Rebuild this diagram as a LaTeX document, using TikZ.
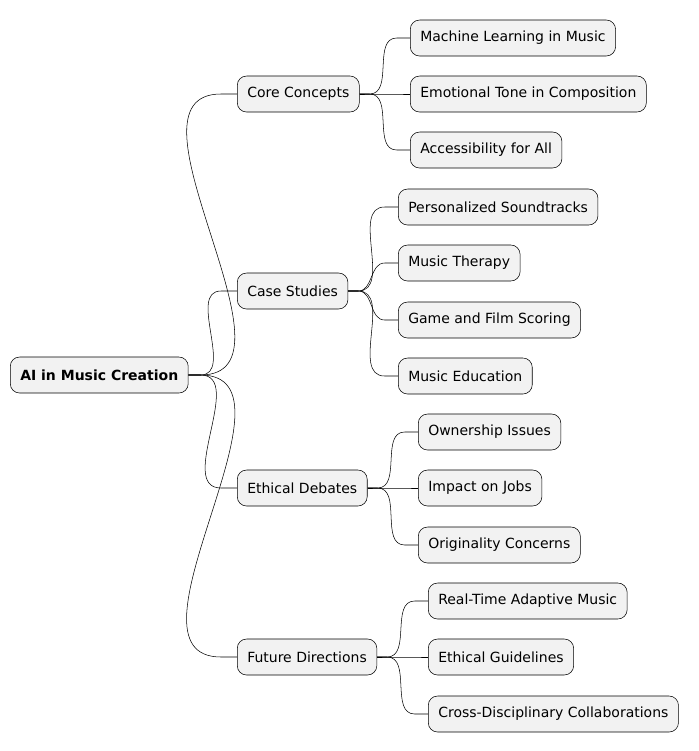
\documentclass[tikz,border=0pt]{standalone}
\usepackage{fontspec}
\setmainfont{DejaVu Sans}
\usetikzlibrary{positioning}
\tikzset{
  topic/.style={draw, fill=black!5, rectangle, rounded corners=7pt, anchor=west,
    minimum height=27pt, inner xsep=7.5pt, font=\fontsize{10.5}{12}\selectfont},
  root/.style={topic, font=\fontsize{10.5}{12}\selectfont\bfseries},
  branch/.style={thin, black}
}
\begin{document}
\begin{tikzpicture}[x=0.75pt, y=-0.75pt]
  \useasboundingbox (0,0) rectangle (699,751);
  \node(ai)[root] at (10,375){AI in Music Creation};

  \node(core)[topic] at (237,94){Core Concepts};
  \node(cases)[topic] at (237,291){Case Studies};
  \node(ethics)[topic] at (237,488){Ethical Debates};
  \node(future)[topic] at (237,657){Future Directions};

  \node(ml)[topic] at (410,38){Machine Learning in Music};
  \node(tone)[topic] at (410,94){Emotional Tone in Composition};
  \node(access)[topic] at (410,150){Accessibility for All};

  \node(sound)[topic] at (398,207){Personalized Soundtracks};
  \node(therapy)[topic] at (398,263){Music Therapy};
  \node(game)[topic] at (398,320){Game and Film Scoring};
  \node(edu)[topic] at (398,376){Music Education};

  \node(owner)[topic] at (418,432){Ownership Issues};
  \node(jobs)[topic] at (418,488){Impact on Jobs};
  \node(orig)[topic] at (418,545){Originality Concerns};

  \node(adapt)[topic] at (428,601){Real-Time Adaptive Music};
  \node(guide)[topic] at (428,657){Ethical Guidelines};
  \node(cross)[topic] at (428,714){Cross-Disciplinary Collaborations};

  % connectors
  \foreach \c in {core,cases,ethics,future}
    \draw[branch] (ai.east) -- ++(12,0) to[out=0,in=180] ([xshift=-12]\c.west) -- (\c.west);
  \foreach \c in {ml,tone,access}
    \draw[branch] (core.east) -- ++(10,0) to[out=0,in=180] ([xshift=-10]\c.west) -- (\c.west);
  \foreach \c in {sound,therapy,game,edu}
    \draw[branch] (cases.east) -- ++(10,0) to[out=0,in=180] ([xshift=-10]\c.west) -- (\c.west);
  \foreach \c in {owner,jobs,orig}
    \draw[branch] (ethics.east) -- ++(10,0) to[out=0,in=180] ([xshift=-10]\c.west) -- (\c.west);
  \foreach \c in {adapt,guide,cross}
    \draw[branch] (future.east) -- ++(10,0) to[out=0,in=180] ([xshift=-10]\c.west) -- (\c.west);
\end{tikzpicture}
\end{document}
